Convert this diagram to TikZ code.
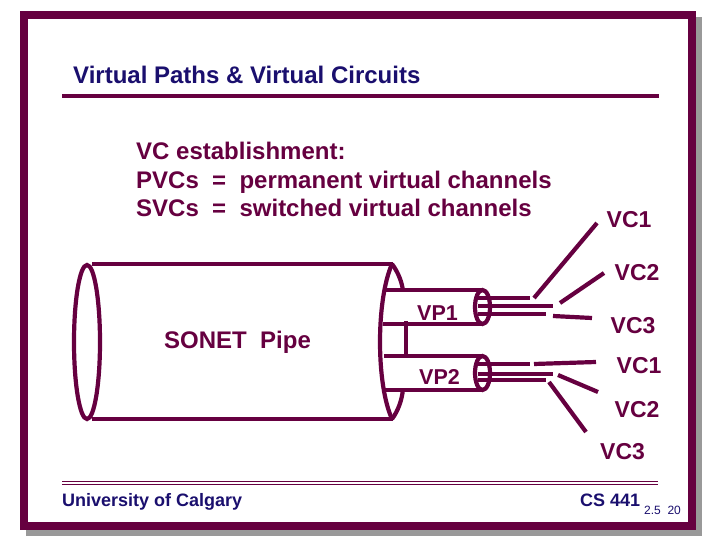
\documentclass[tikz,border=0pt]{standalone}
\usepackage{fontspec}
\setmainfont{Liberation Sans}
\usepackage{tikz}
\definecolor{frameclr}{HTML}{660040}
\definecolor{titleclr}{HTML}{1A0F6E}
\definecolor{shadowclr}{HTML}{999999}
\tikzset{
  thickline/.style={line width=4.2pt,frameclr},
  thinline/.style={line width=3.4pt,frameclr},
  lbl/.style={inner sep=0pt,anchor=base west,frameclr,font=\fontsize{23}{27}\selectfont\bfseries},
  biglbl/.style={lbl,font=\fontsize{24}{28}\selectfont\bfseries},
  vplbl/.style={lbl,font=\fontsize{21.5}{25}\selectfont\bfseries},
  footlbl/.style={inner sep=0pt,anchor=base west,titleclr,font=\fontsize{18}{21}\selectfont\bfseries}
}
\begin{document}
\begin{tikzpicture}[x=1pt,y=-1pt]
  \useasboundingbox (0,0) rectangle (720,540);
  % frame
  \fill[shadowclr] (26,17) rectangle (702,536);
  \fill[frameclr] (20,11) rectangle (696,530);
  \fill[white] (28,19) rectangle (688,522);
  % title
  \node[biglbl,titleclr] (title) at (73,83.5) {Virtual Paths \& Virtual Circuits};
  \draw[line width=4pt,frameclr] (62,96) -- (659,96);
  % text block
  \node[biglbl] (est) at (136,160) {VC establishment:};
  \node[biglbl] (pvc) at (136,189) {PVCs\ \ =\ \ permanent virtual channels};
  \node[biglbl] (svc) at (136,217) {SVCs\ \ =\ \ switched virtual channels};
  % big pipe
  \draw[thickline] (87,342) ellipse (13 and 77);
  \draw[thickline] (92,264) -- (393,264);
  \draw[thickline] (92,419) -- (393,419);
  \draw[thickline] (392,264) .. controls (376,300) and (376,384) .. (392,419);
  \draw[thickline] (392,264) .. controls (398,272) and (402,282) .. (403,291);
  \draw[thickline] (392,419) .. controls (398,411) and (402,400) .. (403,389);
  \node[biglbl] (pipe) at (164,348) {SONET\ \ Pipe};
  % paths
  \draw[thickline] (383,290) -- (482,290);
  \draw[thickline] (383,324) -- (482,324);
  \draw[thickline] (384,356) -- (482,356);
  \draw[thickline] (383,390) -- (482,390);
  \draw[thickline] (406,321) -- (406,356);
  \draw[thickline] (482.5,307) ellipse (7.5 and 17);
  \draw[thickline] (482.5,373) ellipse (7.5 and 17);
  \node[vplbl] (vp1) at (417,320) {VP1};
  \node[vplbl] (vp2) at (419,384) {VP2};
  % fibres
  \foreach \yy/\xx in {298/530,306/553,314/546,364/530,374/553,380/546}
    \draw[thinline] (478,\yy) -- (\xx,\yy);
  \draw[thickline] (534,298) -- (597,223);
  \draw[thickline] (560,303) -- (604,273);
  \draw[thickline] (553,316) -- (592,318);
  \draw[thickline] (534,364) -- (596,362);
  \draw[thickline] (558,375) -- (598,392);
  \draw[thickline] (549,382) -- (586,432);
  % circuit labels
  \node[lbl] (vca) at (606.5,227.5) {VC1};
  \node[lbl] (vcb) at (614.5,280) {VC2};
  \node[lbl] (vcc) at (610.5,333) {VC3};
  \node[lbl] (vcd) at (616.5,373.5) {VC1};
  \node[lbl] (vce) at (614.5,417) {VC2};
  \node[lbl] (vcf) at (600,459.5) {VC3};
  % footer
  \draw[line width=1pt,frameclr] (62,481) -- (658,481);
  \draw[line width=1pt,frameclr] (62,484) -- (658,484);
  \node[footlbl] (uni) at (62,506) {University of Calgary};
  \node[footlbl] (cs) at (580,506) {CS 441};
  \node[inner sep=0pt,anchor=base west,titleclr,font=\fontsize{12}{14}\selectfont] (pg) at (644,514) {2.5\ \ 20};
\end{tikzpicture}
\end{document}
